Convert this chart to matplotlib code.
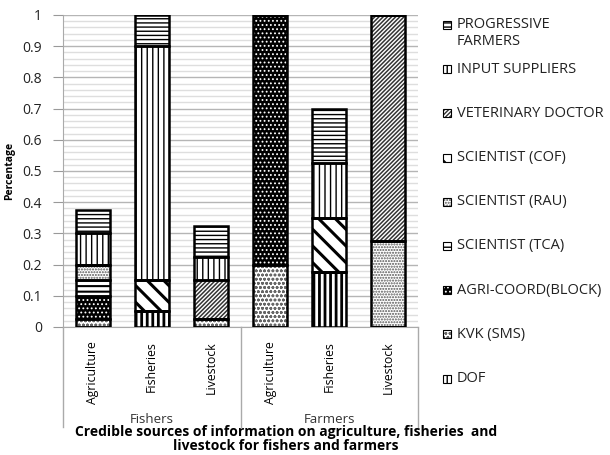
import matplotlib
matplotlib.use("Agg")
import matplotlib.pyplot as plt
import matplotlib.transforms as mtransforms
from matplotlib.patches import Rectangle
import numpy as np

plt.rcParams['font.family'] = ['Open Sans', 'DejaVu Sans']

categories = ["Agriculture", "Fisheries", "Livestock", "Agriculture", "Fisheries", "Livestock"]
groups = ["Fishers", "Farmers"]

# stacked from the bottom up
series = ["DOF", "KVK (SMS)", "AGRI-COORD(BLOCK)", "SCIENTIST (TCA)", "SCIENTIST (RAU)",
          "SCIENTIST (COF)", "VETERINARY DOCTOR", "INPUT SUPPLIERS", "PROGRESSIVE\nFARMERS"]
dof = [0, 0.05, 0, 0, 0.175, 0]
kvk = [0.025, 0, 0.025, 0.2, 0, 0]
agri_coord = [0.075, 0, 0, 0.8, 0, 0]
sci_tca = [0.05, 0, 0, 0, 0, 0]
sci_rau = [0.05, 0, 0, 0, 0, 0.275]
sci_cof = [0, 0.1, 0, 0, 0.175, 0]
vet_doctor = [0, 0, 0.125, 0, 0, 0.725]
input_suppliers = [0.1, 0.75, 0.075, 0, 0.175, 0]
progressive = [0.075, 0.1, 0.1, 0, 0.175, 0]
values = [dof, kvk, agri_coord, sci_tca, sci_rau, sci_cof, vet_doctor, input_suppliers, progressive]

# (face, hatch colour, hatch, hatch linewidth)
styles = [("white", "black", "|||", 2.0),
          ("white", "#666666", "oooo", 0.8),
          ("black", "white", "....", 0.8),
          ("white", "black", "---", 1.5),
          ("white", "#555555", "......", 1.0),
          ("white", "black", "\\\\", 2.2),
          ("white", "#333333", "////////", 1.1),
          ("white", "black", "|||", 1.0),
          ("white", "black", "----", 1.0)]

fig = plt.figure(figsize=(6.1, 4.55), dpi=100)
ax = fig.add_axes([63/610, 1-327/455, 355/610, 312/455])

x = np.arange(len(categories))
w = 0.575
bottom = np.zeros(len(categories))
for vals, (face, hc, hatch, hlw) in zip(values, styles):
    vals = np.array(vals)
    with plt.rc_context({'hatch.linewidth': hlw}):
        ax.bar(x, vals, w, bottom=bottom, color=face, edgecolor=hc, hatch=hatch, linewidth=0, zorder=3)
    ax.bar(x, vals, w, bottom=bottom, fill=False, edgecolor="black", linewidth=1.8, zorder=4)
    bottom += vals

ax.set_xlim(-0.5, 5.5)
ax.set_ylim(0, 1)
ax.set_yticks(np.arange(0, 1.01, 0.1))
ax.set_yticklabels(["0", "0.1", "0.2", "0.3", "0.4", "0.5", "0.6", "0.7", "0.8", "0.9", "1"])
ax.set_yticks(np.arange(0, 1.001, 0.02), minor=True)
ax.grid(axis="y", which="major", color="#b5b5b5", linewidth=1.0, zorder=0)
ax.grid(axis="y", which="minor", color="#dedede", linewidth=1.0, zorder=0)
ax.tick_params(axis="y", which="major", length=7, width=0.8, color="#999999", pad=8, labelsize=10, labelcolor="#222222")
ax.tick_params(axis="y", which="minor", length=0)
ax.set_xticks([])
for s in ["top", "right"]:
    ax.spines[s].set_visible(False)
ax.spines["left"].set_color("#aaaaaa")
ax.spines["bottom"].set_color("#aaaaaa")
ax.set_ylabel("Percentage", fontsize=7.5, fontweight="bold", labelpad=5)

# two-level category axis
trans = mtransforms.blended_transform_factory(ax.transData, ax.transAxes)
for xi, lab in zip(x, categories):
    ax.text(xi, -0.045, lab, rotation=90, ha="center", va="top", fontsize=8.8, transform=trans)
for sep in [-0.5, 2.5, 5.5]:
    ax.plot([sep, sep], [0, -0.32], color="#aaaaaa", linewidth=1, transform=trans, clip_on=False)
for gi, g in enumerate(groups):
    ax.text(1 + 3*gi, -0.295, g, ha="center", va="center", fontsize=9.5, color="#333333", transform=trans)

fig.text(286/610, 1-439/455,
         "Credible sources of information on agriculture, fisheries  and\nlivestock for fishers and farmers",
         ha="center", va="center", fontsize=10, fontweight="bold", linespacing=1.05)

# legend on the right, top entry first
for i, (name, (face, hc, hatch, hlw)) in enumerate(zip(series[::-1], styles[::-1])):
    yc = 25 + i*44.2
    with plt.rc_context({'hatch.linewidth': min(hlw, 1.0)}):
        fig.add_artist(Rectangle((443/610, 1-(yc+4)/455), 8/610, 8/455, transform=fig.transFigure,
                                 facecolor=face, edgecolor=hc, hatch=hatch, linewidth=0))
    fig.add_artist(Rectangle((443/610, 1-(yc+4)/455), 8/610, 8/455, transform=fig.transFigure,
                             fill=False, edgecolor="black", linewidth=0.8))
    if "\n" in name:
        fig.text(457/610, 1-(yc-8)/455, name, ha="left", va="top", fontsize=10.5, color="#222222", linespacing=1.2)
    else:
        fig.text(457/610, 1-yc/455, name, ha="left", va="center", fontsize=10.5, color="#222222")

fig.savefig("out.png", dpi=100)
